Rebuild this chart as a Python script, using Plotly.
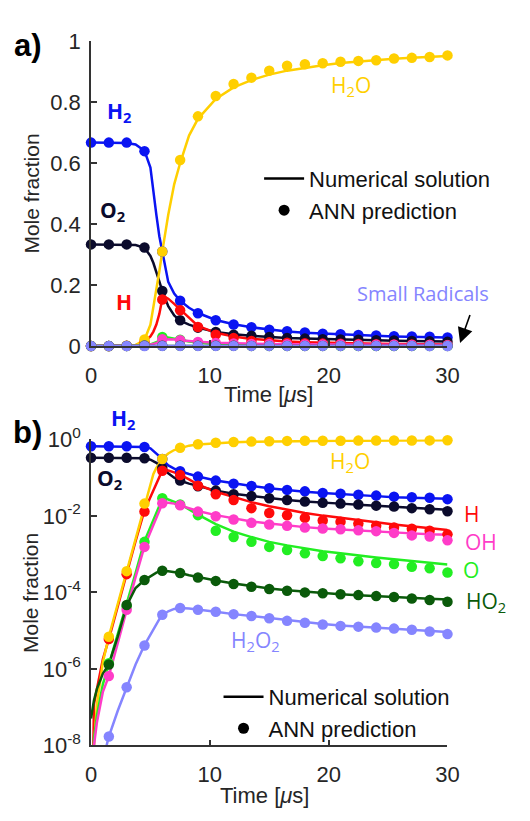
import plotly.graph_objects as go

# ---------------- data ----------------
T_ANN = [0, 1.5, 3, 4.5, 6, 7.5, 9, 10.5, 12, 13.5, 15, 16.5, 18, 19.5, 21, 22.5, 24, 25.5, 27, 28.5, 30]
T_NUM = [0, 0.25, 0.5, 1, 1.5, 2.25, 3, 3.75, 4.5, 5, 5.25, 5.5, 5.75, 6, 6.25, 6.5, 7, 7.5, 8.25, 9,
         10.5, 12, 13.5, 15, 16.5, 18, 19.5, 21, 22.5, 24, 25.5, 27, 28.5, 30]

H2_NUM = [0.667, 0.667, 0.667, 0.667, 0.667, 0.667, 0.666, 0.661, 0.640, 0.585, 0.50, 0.43, 0.36, 0.31, 0.25,
          0.21, 0.172, 0.148, 0.125, 0.108, 0.085, 0.071, 0.061, 0.053, 0.047, 0.043, 0.040, 0.037, 0.035,
          0.033, 0.031, 0.030, 0.029, 0.028]
O2_NUM = [0.333, 0.333, 0.333, 0.333, 0.333, 0.333, 0.333, 0.331, 0.322, 0.295, 0.272, 0.245, 0.212, 0.18,
          0.152, 0.13, 0.10, 0.083, 0.07, 0.06, 0.046, 0.038, 0.033, 0.029, 0.026, 0.024, 0.022, 0.021,
          0.0195, 0.0183, 0.0172, 0.0162, 0.0153, 0.0145]
H2O_NUM = [1e-12, 1e-8, 1.2e-7, 1.5e-6, 7e-6, 5e-5, 3.6e-4, 2.6e-3, 0.02, 0.07, 0.125, 0.18, 0.245, 0.31,
           0.37, 0.43, 0.53, 0.60, 0.69, 0.745, 0.81, 0.848, 0.872, 0.89, 0.903, 0.913, 0.921, 0.928, 0.933,
           0.938, 0.942, 0.945, 0.948, 0.951]
H_NUM = [1e-12, 1.2e-7, 3e-7, 1.8e-6, 6e-6, 4.5e-5, 3e-4, 2.2e-3, 0.014, 0.031, 0.047, 0.07, 0.105, 0.155,
         0.16, 0.155, 0.138, 0.12, 0.09, 0.066, 0.043, 0.031, 0.023, 0.018, 0.0145, 0.012, 0.0102, 0.0088,
         0.0077, 0.0068, 0.006, 0.0054, 0.0048, 0.0043]
OH_NUM = [1e-12, 1e-8, 4e-8, 2.5e-7, 6.5e-7, 5e-6, 3.5e-5, 2.5e-4, 1.6e-3, 3.8e-3, 5.8e-3, 9e-3, 0.0135,
          0.021, 0.022, 0.022, 0.021, 0.019, 0.016, 0.0135, 0.0105, 0.0085, 0.0072, 0.0063, 0.0056, 0.0051,
          0.0047, 0.0044, 0.0041, 0.0039, 0.0037, 0.0035, 0.0033, 0.0032]
O_NUM = [1e-12, 1.5e-8, 6e-8, 4e-7, 1.3e-6, 8e-6, 4.5e-5, 3.2e-4, 2.2e-3, 5.1e-3, 7.9e-3, 0.012, 0.018,
         0.028, 0.029, 0.027, 0.024, 0.0205, 0.0148, 0.0108, 0.0061, 0.0039, 0.0028, 0.0021, 0.0017, 0.0014,
         0.0012, 0.00105, 0.00092, 0.00082, 0.00074, 0.00067, 0.0006, 0.00054]
HO2_NUM = [5e-8, 1.5e-7, 3e-7, 7.5e-7, 1.3e-6, 7e-6, 4.5e-5, 1.3e-4, 2.1e-4, 2.7e-4, 3e-4, 3.3e-4, 3.5e-4,
           3.6e-4, 3.6e-4, 3.55e-4, 3.4e-4, 3.2e-4, 2.8e-4, 2.5e-4, 2.05e-4, 1.7e-4, 1.45e-4, 1.27e-4,
           1.13e-4, 1.03e-4, 9.5e-5, 8.9e-5, 8.4e-5, 7.9e-5, 7.5e-5, 7.1e-5, 6.8e-5, 6.5e-5]
H2O2_NUM = [1e-12, 1e-12, 1e-12, 4e-9, 1.7e-8, 8e-8, 3.3e-7, 1.3e-6, 4.2e-6, 8e-6, 1.1e-5, 1.5e-5, 2e-5,
            2.5e-5, 2.9e-5, 3.2e-5, 3.7e-5, 3.9e-5, 3.8e-5, 3.6e-5, 3.1e-5, 2.7e-5, 2.4e-5, 2.1e-5,
            1.85e-5, 1.65e-5, 1.5e-5, 1.37e-5, 1.28e-5, 1.2e-5, 1.12e-5, 1.05e-5, 9.8e-6, 9.2e-6]

H2_ANN = [0.667, 0.667, 0.667, 0.639, 0.31, 0.148, 0.107, 0.084, 0.07, 0.061, 0.053, 0.048, 0.044, 0.040,
          0.038, 0.036, 0.034, 0.032, 0.031, 0.030, 0.0275]
O2_ANN = [0.333, 0.333, 0.333, 0.323, 0.18, 0.084, 0.06, 0.046, 0.037, 0.033, 0.029, 0.026, 0.024, 0.022,
          0.021, 0.020, 0.0186, 0.0177, 0.016, 0.015, 0.0133]
H2O_ANN = [1e-12, 6.9e-6, 3.6e-4, 0.021, 0.31, 0.61, 0.753, 0.82, 0.859, 0.88, 0.903, 0.919, 0.924, 0.927,
           0.932, 0.935, 0.937, 0.943, 0.945, 0.948, 0.953]
H_ANN = [1e-12, 6e-6, 3e-4, 0.013, 0.152, 0.117, 0.062, 0.037, 0.026, 0.016, 0.012, 0.0104, 0.0089, 0.0076,
         0.0071, 0.0063, 0.0055, 0.005, 0.0046, 0.0041, 0.0033]
OH_ANN = [1e-12, 6.5e-7, 3.5e-5, 1.55e-3, 0.0215, 0.019, 0.013, 0.0098, 0.0081, 0.0066, 0.006, 0.0055,
          0.005, 0.0047, 0.0045, 0.0042, 0.004, 0.0036, 0.0031, 0.0029, 0.0023]
O_ANN = [1e-12, 1.4e-6, 4.3e-5, 2.1e-3, 0.029, 0.02, 0.0105, 0.0041, 0.0028, 0.0021, 0.00155, 0.00128,
         0.00105, 0.00089, 0.00078, 0.00065, 0.00059, 0.00055, 0.00047, 0.00043, 0.00033]
HO2_ANN = [1e-12, 1.3e-6, 4.7e-5, 2.1e-4, 3.7e-4, 3.2e-4, 2.45e-4, 2e-4, 1.66e-4, 1.4e-4, 1.23e-4, 1.1e-4,
           1e-4, 9.5e-5, 8.9e-5, 8.5e-5, 8e-5, 7.6e-5, 6.9e-5, 6.3e-5, 5.7e-5]
H2O2_ANN = [1e-12, 1.7e-8, 3.3e-7, 4.1e-6, 2.6e-5, 3.9e-5, 3.5e-5, 3.1e-5, 2.7e-5, 2.4e-5, 2.1e-5, 1.8e-5,
            1.6e-5, 1.45e-5, 1.33e-5, 1.27e-5, 1.2e-5, 1.13e-5, 1.05e-5, 9.5e-6, 8.1e-6]

X_TICKS = [0, 10, 20, 30]
Y1_TICKS = [0, 0.2, 0.4, 0.6, 0.8, 1]
Y1_TEXT = ["0", "0.2", "0.4", "0.6", "0.8", "1"]
Y2_TICKS = [1e-8, 1e-6, 1e-4, 1e-2, 1]
Y2_TEXT = ["10<sup>-8</sup>", "10<sup>-6</sup>", "10<sup>-4</sup>", "10<sup>-2</sup>", "10<sup>0</sup>"]

BLUE = "#0a14f2"
NAVY = "#0b0b2c"
GOLD = "#FFCF00"
RED = "#FF0a0a"
MAGENTA = "#FF3CC8"
GREEN = "#22EE22"
DKGREEN = "#0a5a0a"
LAV = "#8585FF"

SPECIES = [
    ("H2", H2_NUM, H2_ANN, BLUE),
    ("O2", O2_NUM, O2_ANN, NAVY),
    ("H", H_NUM, H_ANN, RED),
    ("H2O", H2O_NUM, H2O_ANN, GOLD),
    ("O", O_NUM, O_ANN, GREEN),
    ("OH", OH_NUM, OH_ANN, MAGENTA),
    ("HO2", HO2_NUM, HO2_ANN, DKGREEN),
    ("H2O2", H2O2_NUM, H2O2_ANN, LAV),
]

W, H = 530, 821


def px(x, y):
    return x / W, 1 - y / H


fig = go.Figure()
for xa, ya in (("x", "y"), ("x2", "y2")):
    for name, num, ann, col in SPECIES:
        fig.add_trace(go.Scatter(x=T_NUM, y=num, mode="lines", line=dict(color=col, width=2.5),
                                 xaxis=xa, yaxis=ya, showlegend=False, name=name))
    for name, num, ann, col in SPECIES:
        fig.add_trace(go.Scatter(x=T_ANN, y=ann, mode="markers", marker=dict(color=col, size=10.5),
                                 xaxis=xa, yaxis=ya, showlegend=False, name=name, cliponaxis=False))

# legend entries
for lg, xa, ya in (("legend", "x", "y"), ("legend2", "x2", "y2")):
    fig.add_trace(go.Scatter(x=[None], y=[None], mode="lines", line=dict(color="black", width=2.5),
                             name="Numerical solution", legend=lg, xaxis=xa, yaxis=ya))
    fig.add_trace(go.Scatter(x=[None], y=[None], mode="markers", marker=dict(color="black", size=11),
                             name="ANN prediction", legend=lg, xaxis=xa, yaxis=ya))

TICKFONT = dict(family="Liberation Sans, Arial, sans-serif", size=22, color="#262626")
axis_common = dict(showline=True, linecolor="#333333", linewidth=1.5, ticks="inside", ticklen=6,
                   tickcolor="#333333", tickwidth=1.5, showgrid=False, zeroline=False, tickfont=TICKFONT)
XDOM = [88 / W, 457 / W]
LEGFONT = dict(family="Liberation Sans, Arial, sans-serif", size=22, color="#111111")

fig.update_layout(
    width=W, height=H, margin=dict(l=0, r=0, t=0, b=0),
    paper_bgcolor="white", plot_bgcolor="white",
    xaxis=dict(domain=XDOM, range=[0, 30], tickvals=X_TICKS, anchor="y", ticklabelstandoff=9, **axis_common),
    yaxis=dict(domain=[1 - 342 / H, 1 - 26 / H], range=[0, 1], tickvals=Y1_TICKS, ticktext=Y1_TEXT,
               anchor="x", ticklabelstandoff=4, **axis_common),
    xaxis2=dict(domain=XDOM, range=[0, 30], tickvals=X_TICKS, anchor="y2", ticklabelstandoff=9, **axis_common),
    yaxis2=dict(domain=[1 - 756 / H, 1 - 439 / H], type="log", range=[-8, 0], tickvals=Y2_TICKS,
                ticktext=Y2_TEXT, anchor="x2", ticklabelstandoff=4, **axis_common),
    legend=dict(x=px(262, 0)[0], y=px(0, 147)[1], xanchor="left", yanchor="top", bgcolor="rgba(0,0,0,0)",
                font=LEGFONT, tracegroupgap=0, itemwidth=40),
    legend2=dict(x=px(220, 0)[0], y=px(0, 684)[1], xanchor="left", yanchor="top", bgcolor="rgba(0,0,0,0)",
                 font=LEGFONT, tracegroupgap=0, itemwidth=40),
)

LBL = "Open Sans, Noto Sans, sans-serif"
AX = "Liberation Sans, Arial, sans-serif"


def label(text, x, y, color, size=21, family=LBL, angle=0, bold=False):
    xx, yy = px(x, y)
    t = f"<b>{text}</b>" if bold else text
    fig.add_annotation(text=t, x=xx, y=yy, xref="paper", yref="paper", showarrow=False,
                       xanchor="center", yanchor="middle", textangle=angle,
                       font=dict(family=family, size=size, color=color))


# panel a
label("a)", 23, 31, "black", size=31, family=AX, bold=True)
label("H<sub>2</sub>", 117, 100, BLUE, bold=True)
label("O<sub>2</sub>", 110, 202, NAVY, bold=True)
label("H", 122, 296, RED, bold=True)
label("H<sub>2</sub>O", 357, 73, GOLD)
label("Small Radicals", 432, 288, LAV, size=20)
label("Mole fraction", 26, 184, "#262626", size=21, family=AX, angle=-90)
label("Time [<i>μ</i>s]", 272, 392, "#262626", size=22, family=AX)

# arrow pointing at the small-radical curves
hx, hy = px(470, 339)
fig.add_annotation(x=hx, y=hy, xref="paper", yref="paper", text=" ", showarrow=True, ax=11, ay=-31,
                   arrowhead=2, arrowsize=1.9, arrowwidth=1.6, arrowcolor="black", standoff=0,
                   font=dict(size=2))

# panel b
label("b)", 22, 432, "black", size=31, family=AX, bold=True)
label("H<sub>2</sub>", 121, 418, BLUE, bold=True)
label("O<sub>2</sub>", 107, 480, NAVY, bold=True)
label("H<sub>2</sub>O", 356, 462, GOLD)
label("H", 482, 516, RED)
label("OH", 492, 545, MAGENTA)
label("O", 481, 574, GREEN)
label("HO<sub>2</sub>", 497, 607, DKGREEN)
label("H<sub>2</sub>O<sub>2</sub>", 258, 648, LAV)
label("Mole fraction", 26, 598, "#262626", size=21, family=AX, angle=-90)
label("Time [<i>μ</i>s]", 268, 808, "#262626", size=22, family=AX)

fig.write_html("out.html")
